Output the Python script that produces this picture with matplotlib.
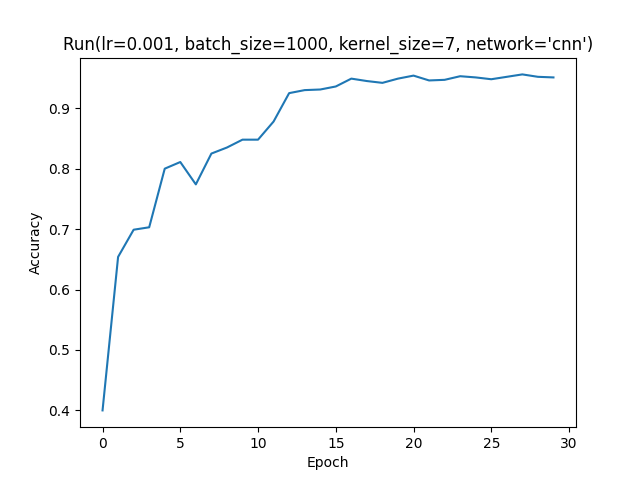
import matplotlib
matplotlib.use("Agg")
import matplotlib.pyplot as plt

epochs = list(range(30))
accuracy = [0.400, 0.654, 0.699, 0.703, 0.800, 0.811, 0.774, 0.825, 0.835, 0.848,
            0.848, 0.878, 0.925, 0.930, 0.931, 0.936, 0.949, 0.945, 0.942, 0.949,
            0.954, 0.946, 0.947, 0.953, 0.951, 0.948, 0.952, 0.956, 0.952, 0.951]

fig, ax = plt.subplots(figsize=(6.4, 4.8), dpi=100)
ax.plot(epochs, accuracy)
ax.set_title("Run(lr=0.001, batch_size=1000, kernel_size=7, network='cnn')")
ax.set_xlabel("Epoch")
ax.set_ylabel("Accuracy")
plt.savefig("out.png")
